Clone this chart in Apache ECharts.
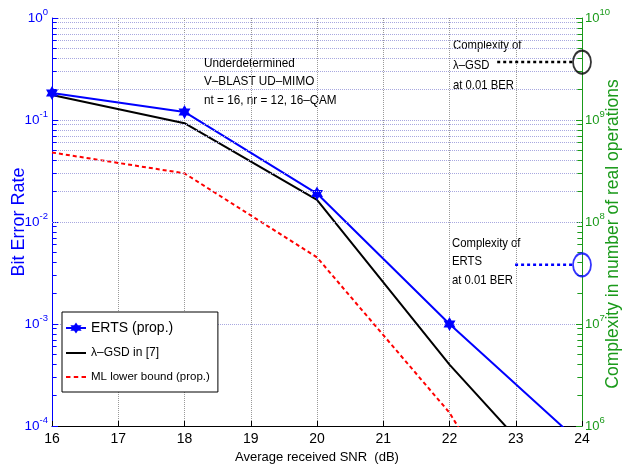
<!DOCTYPE html>
<html>
<head>
<meta charset="utf-8">
<script src="https://cdn.jsdelivr.net/npm/echarts@6/dist/echarts.min.js"></script>
<style>
html, body { margin: 0; padding: 0; background: #fff; }
#chart { width: 627px; height: 465px; }
</style>
</head>
<body>
<div id="chart"></div>
<script>
// SNR points (dB)
var snr = [16, 18, 20, 22, 24];
// bit error rates
var ertsBer = [0.184, 0.12, 0.019, 0.001, 0.000066];
var gsdBer = [0.176, 0.093, 0.0165, 0.0004, 0.000015];
var mlBer = [0.048, 0.030, 0.0045, 0.000135, 0.000001];
// complexity at 0.01 BER (right axis)
var gsdComplexity = 3.7e9;
var ertsComplexity = 3.8e7;
// where the dashed pointers start / end (SNR units)
var gsdPointerX = [22.72, 23.86];
var ertsPointerX = [22.99, 23.86];
// log axis decades and minor steps
var berDecades = [1e-4, 1e-3, 1e-2, 1e-1];
var cplxDecades = [1e6, 1e7, 1e8, 1e9];
var minorSteps = [2, 3, 4, 5, 6, 7, 8, 9];

var font = 'Liberation Sans';
var blue = '#0000ff';
var green = '#1a9a1a';
var gridBlue = '#a8a8e0';
var star = 'path://M100,0 L128.9,50 L186.6,50 L157.7,100 L186.6,150 L128.9,150 L100,200 L71.1,150 L13.4,150 L42.3,100 L13.4,50 L71.1,50 Z';
// legend icons: plain line and short-dash line
var solidIcon = 'path://M0,0 h20 v2 h-20 Z';
var dashIcon = 'path://M0,0 h4 v2 h-4 Z M7,0 h4 v2 h-4 Z M14,0 h4 v2 h-4 Z';

function pairs(xs, ys) {
    var out = [];
    for (var i = 0; i < xs.length; i++) out.push([xs[i], ys[i]]);
    return out;
}

function powLabel(v) {
    var e = Math.round(Math.log(v) / Math.LN10);
    return '{b|10}{s|' + e + '}';
}

// minor grid lines + minor ticks (echarts spaces log minor ticks evenly, so draw them here)
var berGrid = [], berTicks = [], cplxTicks = [];
berDecades.forEach(function (d) {
    minorSteps.forEach(function (m) {
        berGrid.push({ yAxis: d * m });
        berTicks.push([{ coord: [16, d * m] }, { coord: [16.07, d * m] }]);
    });
});
cplxDecades.forEach(function (d) {
    minorSteps.forEach(function (m) {
        cplxTicks.push([{ coord: [23.93, d * m] }, { coord: [24, d * m] }]);
    });
});

var chart = echarts.init(document.getElementById('chart'));
chart.setOption({
    animation: false,
    textStyle: { fontFamily: font },
    grid: { left: 52, right: 45, top: 18, bottom: 39, containLabel: false, outerBoundsMode: 'none' },
    legend: {
        orient: 'vertical',
        left: 62,
        top: 312,
        backgroundColor: '#fff',
        borderColor: '#000',
        borderWidth: 1,
        borderRadius: 0,
        padding: [9, 8, 9, 3],
        itemWidth: 20,
        itemHeight: 14,
        itemGap: 12,
        textStyle: { color: '#000', fontFamily: font },
        data: [
            { name: 'ERTS (prop.)', textStyle: { fontSize: 14 } },
            { name: 'λ–GSD in [7]', icon: solidIcon, itemStyle: { color: '#000' }, textStyle: { fontSize: 12 } },
            { name: 'ML lower bound (prop.)', icon: dashIcon, itemStyle: { color: '#ff0000' }, textStyle: { fontSize: 11.5 } }
        ]
    },
    xAxis: {
        type: 'value',
        min: 16,
        max: 24,
        interval: 1,
        name: 'Average received SNR  (dB)',
        nameLocation: 'middle',
        nameGap: 23,
        nameTextStyle: { color: '#000', fontSize: 13 },
        axisLine: { lineStyle: { color: '#000', width: 1 } },
        axisTick: { inside: true, length: 5, lineStyle: { color: '#000' } },
        axisLabel: { color: '#000', fontSize: 14, margin: 6 },
        splitLine: { show: true, lineStyle: { type: 'dotted', color: '#999' } }
    },
    yAxis: [{
        type: 'log',
        logBase: 10,
        min: 1e-4,
        max: 1,
        name: 'Bit Error Rate',
        nameLocation: 'middle',
        nameMoveOverlap: false,
        nameGap: 24,
        nameTextStyle: { color: blue, fontSize: 18 },
        axisLine: { show: true, lineStyle: { color: blue, width: 1 } },
        axisTick: { inside: true, length: 6, lineStyle: { color: blue } },
        axisLabel: {
            color: blue,
            margin: 4,
            formatter: powLabel,
            rich: {
                b: { fontSize: 13.5, lineHeight: 22, color: blue },
                s: { fontSize: 9.5, verticalAlign: 'top', color: blue }
            }
        },
        splitLine: { show: true, lineStyle: { type: 'dotted', color: gridBlue } }
    }, {
        type: 'log',
        logBase: 10,
        min: 1e6,
        max: 1e10,
        position: 'right',
        name: 'Complexity in number of real operations',
        nameLocation: 'middle',
        nameMoveOverlap: false,
        nameRotate: 90,
        nameGap: 22,
        nameTextStyle: { color: green, fontSize: 17.5, padding: [0, 24, 0, 0] },
        axisLine: { show: true, lineStyle: { color: green, width: 1 } },
        axisTick: { inside: true, length: 6, lineStyle: { color: green } },
        axisLabel: {
            color: green,
            margin: 3,
            formatter: powLabel,
            rich: {
                b: { fontSize: 13, lineHeight: 22, color: green },
                s: { fontSize: 9.5, verticalAlign: 'top', color: green }
            }
        },
        splitLine: { show: false }
    }],
    graphic: [{
        type: 'text', left: 204, top: 54, scaleX: 0.87,
        style: { text: 'Underdetermined\nV–BLAST UD–MIMO\nnt = 16, nr = 12, 16–QAM', fontSize: 13.5, fontFamily: font, lineHeight: 18.5, fill: '#000' }
    }, {
        type: 'text', left: 453, top: 35, scaleX: 0.87,
        style: { text: 'Complexity of\nλ–GSD\nat 0.01 BER', fontSize: 13, fontFamily: font, lineHeight: 20, fill: '#000' }
    }, {
        type: 'text', left: 452, top: 234, scaleX: 0.87,
        style: { text: 'Complexity of\nERTS\nat 0.01 BER', fontSize: 13, fontFamily: font, lineHeight: 18.5, fill: '#000' }
    }],
    series: [{
        name: 'minor-grid',
        type: 'line',
        data: [],
        silent: true,
        z: 1,
        markLine: {
            silent: true,
            symbol: ['none', 'none'],
            label: { show: false },
            lineStyle: { type: 'dotted', color: gridBlue, width: 1 },
            data: berGrid
        }
    }, {
        name: 'minor-ticks-left',
        type: 'line',
        data: [],
        silent: true,
        markLine: {
            silent: true,
            symbol: ['none', 'none'],
            label: { show: false },
            lineStyle: { type: 'solid', color: blue, width: 1 },
            data: berTicks
        }
    }, {
        name: 'minor-ticks-right',
        type: 'line',
        yAxisIndex: 1,
        data: [],
        silent: true,
        markLine: {
            silent: true,
            symbol: ['none', 'none'],
            label: { show: false },
            lineStyle: { type: 'solid', color: green, width: 1 },
            data: cplxTicks
        }
    }, {
        name: 'ML lower bound (prop.)',
        type: 'line',
        data: pairs(snr, mlBer),
        symbol: 'none',
        color: '#ff0000',
        lineStyle: { color: '#ff0000', width: 2, type: [4, 3] },
        z: 3
    }, {
        name: 'λ–GSD in [7]',
        type: 'line',
        data: pairs(snr, gsdBer),
        symbol: 'none',
        color: '#000',
        lineStyle: { color: '#000', width: 2 },
        z: 3
    }, {
        name: 'ERTS (prop.)',
        type: 'line',
        data: pairs(snr, ertsBer),
        symbol: star,
        symbolSize: [12, 14],
        color: blue,
        itemStyle: { color: blue },
        lineStyle: { color: blue, width: 2 },
        z: 4
    }, {
        name: 'gsd-pointer',
        type: 'line',
        yAxisIndex: 1,
        data: pairs(gsdPointerX, [gsdComplexity, gsdComplexity]),
        symbol: 'none',
        clip: false,
        lineStyle: { color: '#000', width: 2.5, type: [3, 3] }
    }, {
        name: 'erts-pointer',
        type: 'line',
        yAxisIndex: 1,
        data: pairs(ertsPointerX, [ertsComplexity, ertsComplexity]),
        symbol: 'none',
        clip: false,
        lineStyle: { color: blue, width: 2.5, type: [3, 3] }
    }, {
        name: 'complexity-marks',
        type: 'scatter',
        yAxisIndex: 1,
        clip: false,
        symbol: 'circle',
        symbolSize: [18, 23],
        data: [
            { value: [24, gsdComplexity], itemStyle: { borderColor: '#000' } },
            { value: [24, ertsComplexity], itemStyle: { borderColor: blue } }
        ],
        itemStyle: { color: 'rgba(0,0,0,0)', borderWidth: 2 },
        z: 5
    }]
});
</script>
</body>
</html>
